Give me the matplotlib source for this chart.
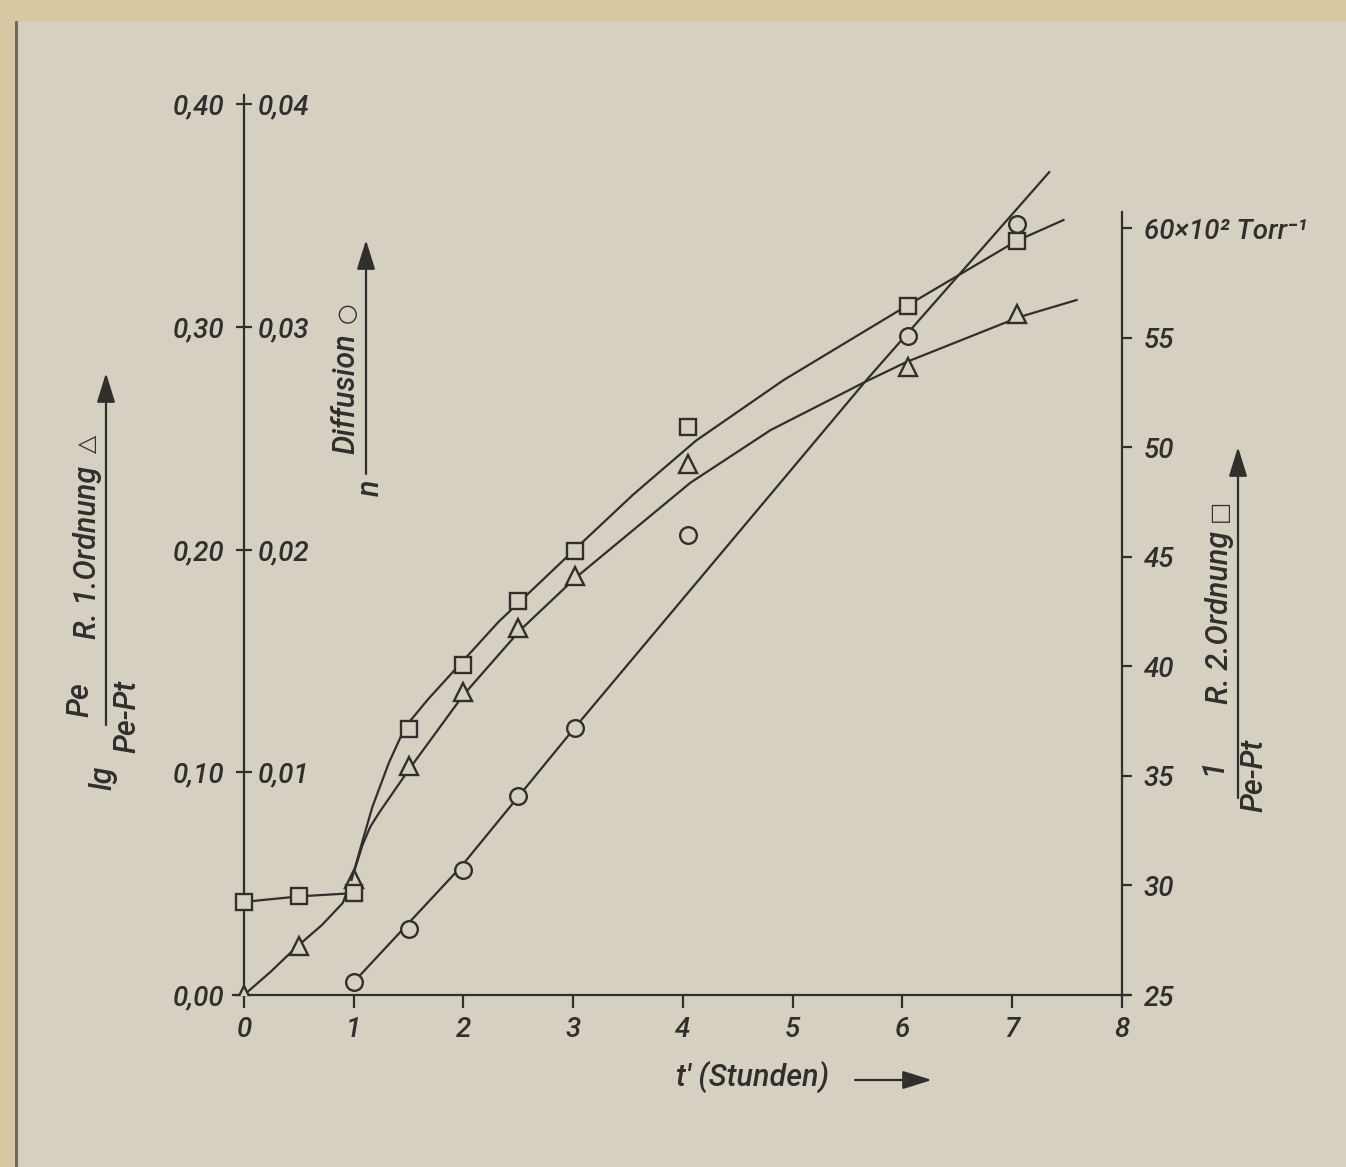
import matplotlib
matplotlib.use("Agg")
import matplotlib.pyplot as plt
from matplotlib.patches import Rectangle, FancyArrowPatch
from matplotlib.lines import Line2D

plt.rcParams['font.family'] = ['Roboto', 'DejaVu Sans']
plt.rcParams['font.style'] = 'italic'
plt.rcParams['font.weight'] = 'medium'

W, H = 1346, 1167
paper = '#d6d0c3'
ink = '#302f2b'

# Reaktion 2. Ordnung (rechte Achse, x10^2 Torr^-1)
t_sq = [0, 0.5, 1.0, 1.5, 2.0, 2.5, 3.02, 4.05, 6.05, 7.05]
sq = [29.25, 29.5, 29.65, 37.15, 40.07, 43.0, 45.27, 50.94, 56.46, 59.43]
t_sq_flat = [0, 0.5, 1.0]
sq_flat = [29.25, 29.5, 29.65]
t_sq_fit = [0.98, 1.07, 1.17, 1.32, 1.47, 1.68, 1.98, 2.32, 3.02, 3.55, 4.12, 4.92,
            6.04, 7.04, 7.47]
sq_fit = [30.25, 31.85, 33.58, 35.59, 37.24, 38.51, 40.16, 42.03, 45.36, 47.85, 50.3,
          53.07, 56.45, 59.41, 60.37]

# Reaktion 1. Ordnung (lg Pe/(Pe-Pt))
t_tr = [0, 0.5, 1.0, 1.5, 2.0, 2.5, 3.02, 4.05, 6.05, 7.05]
tr = [0.0, 0.022, 0.0521, 0.1028, 0.136, 0.1648, 0.1881, 0.2384, 0.2819, 0.3057]
t_tr_fit = [0, 0.24, 0.48, 0.71, 0.90, 0.98, 1.08, 1.15, 1.23, 1.50, 2.0, 2.52, 3.02,
            4.07, 4.80, 5.66, 6.04, 7.07, 7.59]
tr_fit = [0.0, 0.0103, 0.0216, 0.0314, 0.0413, 0.0516, 0.0673, 0.0754, 0.0817, 0.101,
          0.1347, 0.1639, 0.1872, 0.230, 0.2536, 0.2752, 0.2842, 0.3044, 0.312]

# Diffusion (n)
t_ci = [1.0, 1.5, 2.0, 2.5, 3.02, 4.05, 6.05, 7.05]
ci = [0.0006, 0.00296, 0.00561, 0.00893, 0.01199, 0.02065, 0.02958, 0.03461]
t_ci_fit = [1.0, 1.97, 3.0, 5.68, 7.34]
ci_fit = [0.00058, 0.00571, 0.01191, 0.02764, 0.03694]

x_ticks = [0, 1, 2, 3, 4, 5, 6, 7, 8]
left_ticks = [0.0, 0.1, 0.2, 0.3, 0.4]
left_labels = ['0,00', '0,10', '0,20', '0,30', '0,40']
diff_ticks = [0.01, 0.02, 0.03, 0.04]
diff_labels = ['0,01', '0,02', '0,03', '0,04']
right_ticks = [25, 30, 35, 40, 45, 50, 55, 60]
right_labels = ['25', '30', '35', '40', '45', '50', '55', '60×10² Torr⁻¹']

fig = plt.figure(figsize=(W / 100, H / 100), dpi=100)
fig.patch.set_facecolor('#d8c8a2')
fig.add_artist(Rectangle((17 / W, 0), 1, 1 - 22 / H, transform=fig.transFigure,
                         facecolor=paper, edgecolor='none', zorder=0))
fig.add_artist(Line2D([15.5 / W, 15.5 / W], [0, 1 - 22 / H], transform=fig.transFigure,
                      color='#6e6a5c', lw=2.2, zorder=1))

ppu = 109.7   # pixels per hour
x_lo, x_hi = -0.1, 8.07
y_top = 0.404
ax = fig.add_axes([(244 + x_lo * ppu) / W, 1 - 995 / H,
                   (x_hi - x_lo) * ppu / W, y_top * 2227.5 / H])
ax.set_facecolor('none')
ax2 = ax.twinx()
ax3 = ax.twinx()

ax.set_xlim(x_lo, x_hi)
ax.set_ylim(0, y_top)
ax2.set_ylim(25, 25 + y_top * 2227.5 / 21.91)
ax3.set_ylim(0, y_top / 10)

lw = 1.6
mk = dict(markerfacecolor=paper, markeredgecolor=ink, markeredgewidth=1.7, linestyle='none')

ax.plot(t_tr_fit, tr_fit, color=ink, lw=lw, zorder=2)
ax.plot(t_tr, tr, marker='^', markersize=13, zorder=3, **mk)

ax2.plot(t_sq_flat, sq_flat, color=ink, lw=lw, zorder=2)
ax2.plot(t_sq_fit, sq_fit, color=ink, lw=lw, zorder=2)
ax2.plot(t_sq, sq, marker='s', markersize=12, zorder=3, **mk)

ax3.plot(t_ci_fit, ci_fit, color=ink, lw=lw, zorder=2)
ax3.plot(t_ci, ci, marker='o', markersize=12, zorder=3, **mk)

for a in (ax, ax2, ax3):
    for s in a.spines.values():
        s.set_visible(False)

ax.spines['left'].set_visible(True)
ax.spines['left'].set_position(('data', 0))
ax.spines['bottom'].set_visible(True)
ax2.spines['right'].set_visible(True)
ax2.spines['right'].set_position(('data', 8))
ax2.spines['right'].set_bounds(25, 60.74)
ax3.spines['right'].set_position(('data', 0))
for s in (ax.spines['left'], ax.spines['bottom'], ax2.spines['right']):
    s.set_color(ink)
    s.set_linewidth(lw)

fs_tick = 20
ax.set_xticks(x_ticks)
ax.set_xticklabels([str(v) for v in x_ticks])
ax.tick_params(axis='x', direction='out', length=9, width=lw, pad=6,
               labelsize=fs_tick, colors=ink)
ax.set_yticks(left_ticks)
ax.set_yticklabels(left_labels)
ax.tick_params(axis='y', direction='inout', length=12, width=lw, pad=8,
               labelsize=fs_tick, colors=ink)
ax2.set_yticks(right_ticks)
ax2.set_yticklabels(right_labels)
ax2.tick_params(axis='y', direction='out', length=7, width=lw, pad=9,
                labelsize=fs_tick, colors=ink)
ax3.set_yticks(diff_ticks)
ax3.set_yticklabels(diff_labels)
ax3.tick_params(axis='y', length=0, pad=10, labelsize=fs_tick, colors=ink)


def fpos(px, py):
    return px / W, 1 - py / H


def label(px, py, s, rot=90, size=22):
    fig.text(*fpos(px, py), s, rotation=rot, rotation_mode='anchor',
             ha='center', va='center', fontsize=size, color=ink)


def symbol(px, py, s, size=17):
    fig.text(*fpos(px, py), s, rotation=90, rotation_mode='anchor',
             ha='center', va='center', fontsize=size, color=ink,
             family='DejaVu Sans', style='normal', weight='bold')


def arrow(p0, p1):
    fig.add_artist(FancyArrowPatch(
        fpos(*p0), fpos(*p1), transform=fig.transFigure,
        arrowstyle='-|>,head_length=0.9,head_width=0.28', mutation_scale=20,
        color=ink, lw=lw, shrinkA=0, shrinkB=0))


# linke Achsenbeschriftung
label(103, 778, 'lg')
label(80, 700, 'Pe')
label(127, 716, 'Pe-Pt')
label(87, 552, 'R. 1.Ordnung')
symbol(87, 444, '△')
arrow((106, 725), (106, 373))

# Diffusion
label(346, 394, 'Diffusion')
symbol(347, 313, '○')
label(370, 488, 'n')
arrow((366, 474), (366, 240))

# rechte Achsenbeschriftung
label(1213, 767, '1')
label(1254, 775, 'Pe-Pt')
label(1219, 617, 'R. 2.Ordnung')
symbol(1219, 511, '□')
arrow((1238, 798), (1238, 447))

# x-Achse
label(753, 1077, "t' (Stunden)", rot=0)
arrow((855, 1080), (932, 1080))

fig.savefig('out.png', dpi=100, facecolor=fig.get_facecolor())
